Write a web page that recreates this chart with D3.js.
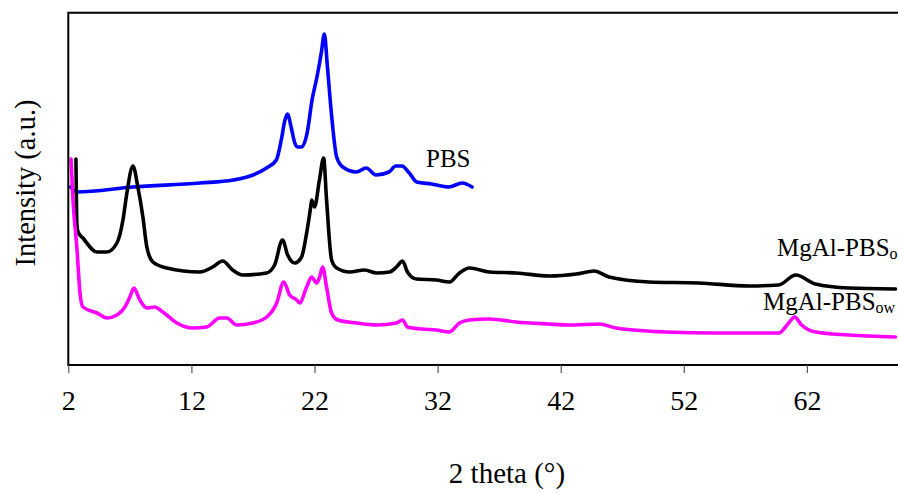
<!DOCTYPE html>
<html lang="en">
<head>
  <meta charset="UTF-8">
  <title>XRD patterns</title>
  <style>
    body { margin: 0; background: #fff; }
    svg text { font-family: "Liberation Serif", "Times New Roman", serif; fill: #000; }
  </style>
</head>
<body>
  <div id="chart"></div>
  <script src="https://d3js.org/d3.v7.min.js"></script>
  <script>
    // 2 theta (deg) / intensity (a.u.)
    const pbsAngle = [2.2, 2.7, 7.25, 12.7, 15.4, 17, 18.1, 18.9, 19.3, 19.6, 19.8, 20.1, 20.4, 20.6, 20.95, 21.4, 21.8, 22.2, 22.55, 22.8, 23.05, 23.4, 23.8, 24.3, 25.4, 26.2, 27, 28.05, 28.6, 29.1, 29.7, 30.3, 31.5, 32.9, 34, 34.8];
    const pbsValue = [178, 173, 178, 182, 185, 190, 197, 205, 225, 245, 251, 238, 222, 218, 218, 232, 265, 288, 312, 331, 298, 248, 208, 198, 193, 197, 190, 193, 199, 199, 192, 183, 181, 178, 182, 178];

    const oAngle = [2.62, 2.7, 2.79, 3.19, 4.33, 5.14, 5.95, 6.44, 6.76, 7.25, 7.65, 8.06, 8.38, 8.87, 10, 12.68, 13.73, 14.54, 15.35, 16.17, 18.1, 18.76, 19.4, 19.82, 20.4, 20.95, 21.36, 21.69, 21.77, 22, 22.4, 22.74, 22.98, 23.39, 23.8, 24.85, 26.06, 27.04, 28.09, 28.66, 29.15, 29.55, 30.28, 31.9, 32.96, 33.77, 34.58, 36.2, 38.4, 41.07, 43.26, 44.72, 45.93, 49.18, 53.2, 57.3, 59.7, 61.1, 62.7, 65.4, 69.2];
    const oValue = [206, 140, 133, 127, 113, 113, 122, 145, 172, 199, 178, 148, 118, 103, 97, 93, 98, 104, 95, 90, 92, 100, 125, 110, 102, 108, 132, 158, 165, 158, 185, 207, 165, 105, 97, 93, 95, 92, 93, 98, 104, 93, 86, 85, 83, 92, 97, 93, 92, 89, 91, 94, 88, 83, 82, 79, 80, 90, 81, 77, 76];

    const owAngle = [2.22, 2.38, 2.71, 2.95, 3.19, 4.33, 5.14, 5.95, 6.6, 7, 7.33, 7.81, 8.38, 9.03, 9.68, 10.82, 12.11, 13.25, 14.3, 14.87, 15.68, 16.98, 18.12, 18.93, 19.5, 19.98, 20.55, 20.79, 21.36, 21.77, 22.17, 22.41, 22.66, 22.98, 23.39, 23.88, 25.42, 27.04, 28.66, 29.15, 29.55, 30.77, 31.9, 32.96, 33.77, 34.58, 36.2, 38.39, 41.07, 42.69, 45.12, 46.5, 50.55, 54.6, 59.71, 60.52, 61, 61.57, 62.7, 65.38, 69.19];
    const owValue = [206, 165, 115, 72, 58, 52, 47, 50, 58, 68, 77, 65, 57, 58, 53, 42, 37, 38, 47, 47, 40, 42, 48, 62, 83, 70, 65, 62, 78, 88, 82, 88, 98, 78, 52, 45, 42, 40, 42, 45, 38, 36, 35, 33, 42, 45, 46, 43, 41, 40, 41, 37, 33, 32, 32, 42, 48, 40, 33, 30, 28];

    const xTicks = [2, 12, 22, 32, 42, 52, 62];

    const width = 898, height = 494;
    const margin = { top: 12.7, left: 68.3, bottom: 365 };

    const svg = d3.select("#chart").append("svg")
      .attr("width", width)
      .attr("height", height);

    const x = d3.scaleLinear().domain([2, 69.4]).range([margin.left, width]);
    const y = d3.scaleLinear().domain([0, 352.3]).range([margin.bottom, margin.top]);

    svg.append("clipPath").attr("id", "plot")
      .append("rect")
      .attr("x", margin.left).attr("y", margin.top)
      .attr("width", width - margin.left).attr("height", margin.bottom - margin.top);

    const line = d3.line()
      .x(d => x(d[0]))
      .y(d => y(d[1]))
      .curve(d3.curveMonotoneX);

    const series = [
      { angle: pbsAngle, value: pbsValue, color: "#0000ff" },
      { angle: oAngle, value: oValue, color: "#000000" },
      { angle: owAngle, value: owValue, color: "#ff00ff" }
    ];

    const g = svg.append("g").attr("clip-path", "url(#plot)");
    series.forEach(s => {
      g.append("path")
        .datum(d3.zip(s.angle, s.value))
        .attr("d", line)
        .attr("fill", "none")
        .attr("stroke", s.color)
        .attr("stroke-width", 3.6)
        .attr("stroke-linejoin", "round")
        .attr("stroke-linecap", "round");
    });

    // frame (right edge falls outside the picture)
    svg.append("path")
      .attr("d", `M${width + 5},${margin.top}H${margin.left}V${margin.bottom}H${width + 5}`)
      .attr("fill", "none")
      .attr("stroke", "#000")
      .attr("stroke-width", 2);

    const xAxis = d3.axisBottom(x)
      .tickValues(xTicks)
      .tickSize(8)
      .tickPadding(17)
      .tickFormat(d3.format("d"));

    const ax = svg.append("g")
      .attr("transform", `translate(0,${margin.bottom})`)
      .call(xAxis);
    ax.select(".domain").remove();
    ax.selectAll(".tick line").attr("stroke", "#555").attr("stroke-width", 1.2);
    ax.selectAll(".tick text")
      .style("font-family", "'Liberation Serif', serif")
      .style("font-size", "28px");

    svg.append("text")
      .attr("x", 507)
      .attr("y", 483)
      .attr("text-anchor", "middle")
      .style("font-size", "29px")
      .text("2 theta (°)");

    svg.append("text")
      .attr("transform", "translate(35,183) rotate(-90)")
      .attr("text-anchor", "middle")
      .style("font-size", "28.5px")
      .text("Intensity (a.u.)");

    // series labels
    svg.append("text")
      .attr("x", 426).attr("y", 167)
      .style("font-size", "25px")
      .text("PBS");

    const lo = svg.append("text")
      .attr("x", 777).attr("y", 256)
      .style("font-size", "25px");
    lo.append("tspan").text("MgAl-PBS");
    lo.append("tspan").attr("dy", 3).style("font-size", "16px").text("o");

    const lw = svg.append("text")
      .attr("x", 763).attr("y", 310)
      .style("font-size", "25px");
    lw.append("tspan").text("MgAl-PBS");
    lw.append("tspan").attr("dy", 3).style("font-size", "16px").text("ow");
  </script>
</body>
</html>
